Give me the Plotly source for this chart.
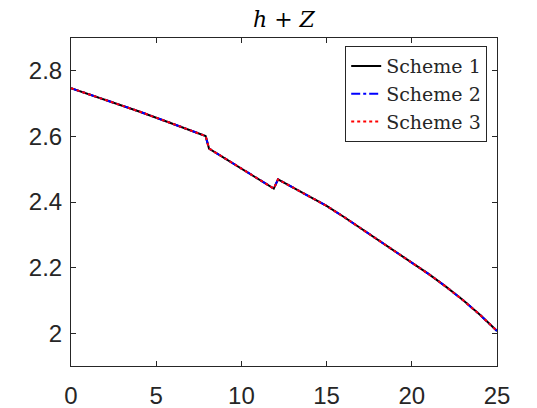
import plotly.graph_objects as go

x_vals = [0, 2, 4, 6, 7.9, 8.1, 10, 11.9, 12.15, 13, 14, 15, 16, 17, 18, 19, 20, 21, 22, 23, 24, 25]
scheme1 = [2.747, 2.712, 2.676, 2.638, 2.601, 2.563, 2.502, 2.441, 2.469, 2.445, 2.418, 2.388,
           2.355, 2.320, 2.285, 2.251, 2.216, 2.180, 2.142, 2.101, 2.056, 2.007]
scheme2 = list(scheme1)
scheme3 = list(scheme1)
names = ["Scheme 1", "Scheme 2", "Scheme 3"]
x_ticks = [0, 5, 10, 15, 20, 25]
y_ticks = [2, 2.2, 2.4, 2.6, 2.8]

fig = go.Figure()
fig.add_trace(go.Scatter(x=x_vals, y=scheme1, mode="lines", name=names[0],
                         line=dict(color="black", width=2, dash="solid")))
fig.add_trace(go.Scatter(x=x_vals, y=scheme2, mode="lines", name=names[1],
                         line=dict(color="blue", width=2, dash="dashdot")))
fig.add_trace(go.Scatter(x=x_vals, y=scheme3, mode="lines", name=names[2],
                         line=dict(color="red", width=2, dash="dot")))

axis_common = dict(showline=True, linecolor="#262626", linewidth=1, mirror="ticks",
                   ticks="inside", ticklen=5, tickcolor="#262626", showgrid=False,
                   zeroline=False, tickfont=dict(family="Liberation Sans", size=24, color="#262626"))

fig.update_layout(
    width=537, height=408,
    margin=dict(l=71, r=40, t=38, b=42, autoexpand=False),
    paper_bgcolor="white", plot_bgcolor="white",
    showlegend=True,
    xaxis=dict(range=[0, 25], tickvals=x_ticks, ticktext=[str(v) for v in x_ticks],
               ticklabelstandoff=8, **axis_common),
    yaxis=dict(range=[1.9, 2.9], tickvals=y_ticks, ticktext=["2", "2.2", "2.4", "2.6", "2.8"],
               ticklabelstandoff=3, **axis_common),
    legend=dict(x=0.977, y=0.975, xanchor="right", yanchor="top",
                bgcolor="white", bordercolor="#262626", borderwidth=1,
                font=dict(family="DejaVu Serif", size=19, color="#262626"),
                tracegroupgap=0, itemwidth=30),
    annotations=[dict(text="<i>h</i> + <i>Z</i>", x=0.5, y=1, xref="paper", yref="paper",
                      xanchor="center", yanchor="bottom", yshift=4, showarrow=False,
                      font=dict(family="DejaVu Serif", size=22, color="black"))],
)

fig.write_html("out.html", config={"displayModeBar": False},
               post_script="document.body.style.margin='0px';")
